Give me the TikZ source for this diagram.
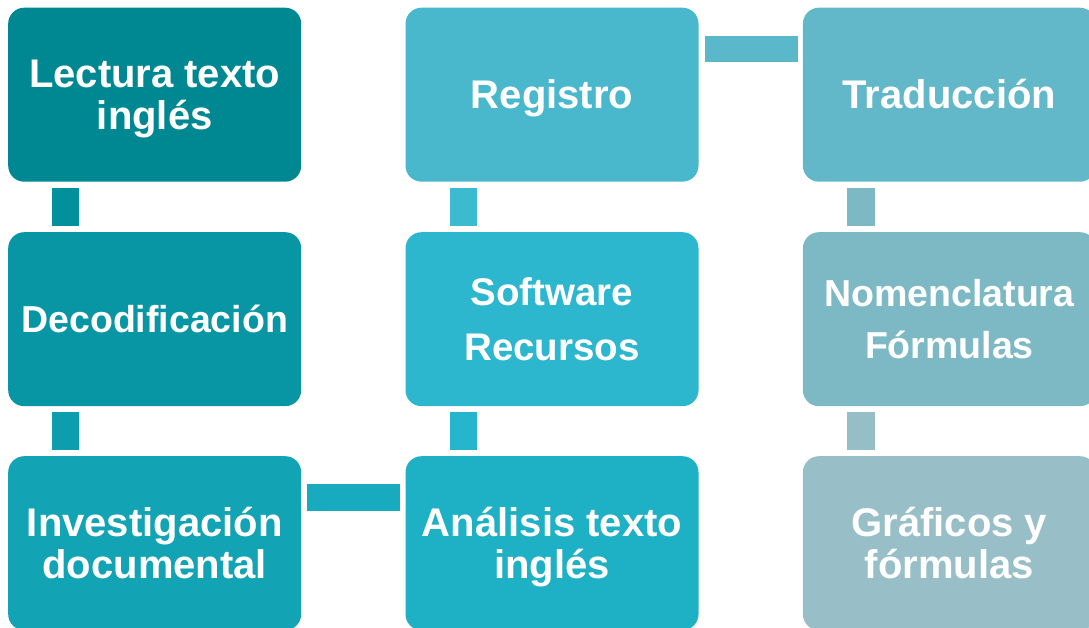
\documentclass[tikz,border=0pt]{standalone}
\usepackage{fontspec}
\setmainfont{Liberation Sans}
% font-metric struts: ascent on the first line, descent on the last
\newcommand\asc{\rule{0pt}{0.905em}}
\newcommand\dsc{\rule[-0.212em]{0pt}{0.212em}}
\begin{document}
\definecolor{bA}{RGB}{0,136,146}
\definecolor{bB}{RGB}{8,150,165}
\definecolor{bC}{RGB}{18,163,180}
\definecolor{bD}{RGB}{30,176,197}
\definecolor{bE}{RGB}{44,183,206}
\definecolor{bF}{RGB}{74,184,204}
\definecolor{bG}{RGB}{98,184,200}
\definecolor{bH}{RGB}{125,185,197}
\definecolor{bI}{RGB}{152,191,199}
\definecolor{kA}{RGB}{3,144,157}
\definecolor{kB}{RGB}{12,158,174}
\definecolor{kC}{RGB}{24,170,191}
\definecolor{kD}{RGB}{37,181,204}
\definecolor{kE}{RGB}{60,186,208}
\definecolor{kF}{RGB}{90,184,202}
\definecolor{kG}{RGB}{124,185,197}
\definecolor{kH}{RGB}{150,190,199}
\begin{tikzpicture}[x=1pt,y=-1pt,
  stepbox/.style={rectangle, rounded corners=16pt, anchor=north west,
    minimum width=293pt, minimum height=174pt, inner sep=0pt,
    text=white, align=center, font=\bfseries\fontsize{40}{42}\selectfont},
  smallbox/.style={stepbox, font=\bfseries\fontsize{37.5}{40}\selectfont}]
\path[use as bounding box] (0,0) rectangle (1089,628);
\clip (0,0) rectangle (1089,628);

% process boxes
\node[stepbox, fill=bA] (lec) at (8,7.5)     {\asc Lectura texto\\inglés\dsc};
\node[smallbox, fill=bB] (dec) at (8,232)    {\asc Decodificación\dsc};
\node[stepbox, fill=bC] (inv) at (8,456)     {\asc Investigación\\documental\dsc};
\node[stepbox, fill=bD] (ana) at (405.3,456) {\asc Análisis texto\\inglés\dsc};
\node[stepbox, fill=bE, font=\bfseries\fontsize{38.5}{55}\selectfont] (sof) at (405.3,232) {\asc Software\\Recursos\dsc};
\node[stepbox, fill=bF] (reg) at (405.3,7.5) {\asc Registro\dsc};
\node[stepbox, fill=bG] (tra) at (802.7,7.5) {\asc Traducción\dsc};
\node[smallbox, fill=bH, font=\bfseries\fontsize{37.5}{52}\selectfont] (nom) at (802.7,232) {\asc Nomenclatura\\Fórmulas\dsc};
\node[stepbox, fill=bI] (gra) at (802.7,456) {\asc Gráficos y\\fórmulas\dsc};

% connectors between consecutive boxes
\fill[kA] ([xshift=44pt,yshift=-6pt]lec.south west) rectangle ([xshift=71pt,yshift=6pt]dec.north west);
\fill[kB] ([xshift=44pt,yshift=-6pt]dec.south west) rectangle ([xshift=71pt,yshift=6pt]inv.north west);
\fill[kC] ([xshift=6pt,yshift=-28pt]inv.north east) rectangle ([xshift=-5pt,yshift=-54.7pt]ana.north west);
\fill[kD] ([xshift=44.7pt,yshift=6pt]ana.north west) rectangle ([xshift=71.7pt,yshift=-6pt]sof.south west);
\fill[kE] ([xshift=44.7pt,yshift=6pt]sof.north west) rectangle ([xshift=71.7pt,yshift=-6pt]reg.south west);
\fill[kF] ([xshift=6pt,yshift=-28.5pt]reg.north east) rectangle ([xshift=-5pt,yshift=-55pt]tra.north west);
\fill[kG] ([xshift=44pt,yshift=-6pt]tra.south west) rectangle ([xshift=72pt,yshift=6pt]nom.north west);
\fill[kH] ([xshift=44pt,yshift=-6pt]nom.south west) rectangle ([xshift=72pt,yshift=6pt]gra.north west);
\end{tikzpicture}
\end{document}
